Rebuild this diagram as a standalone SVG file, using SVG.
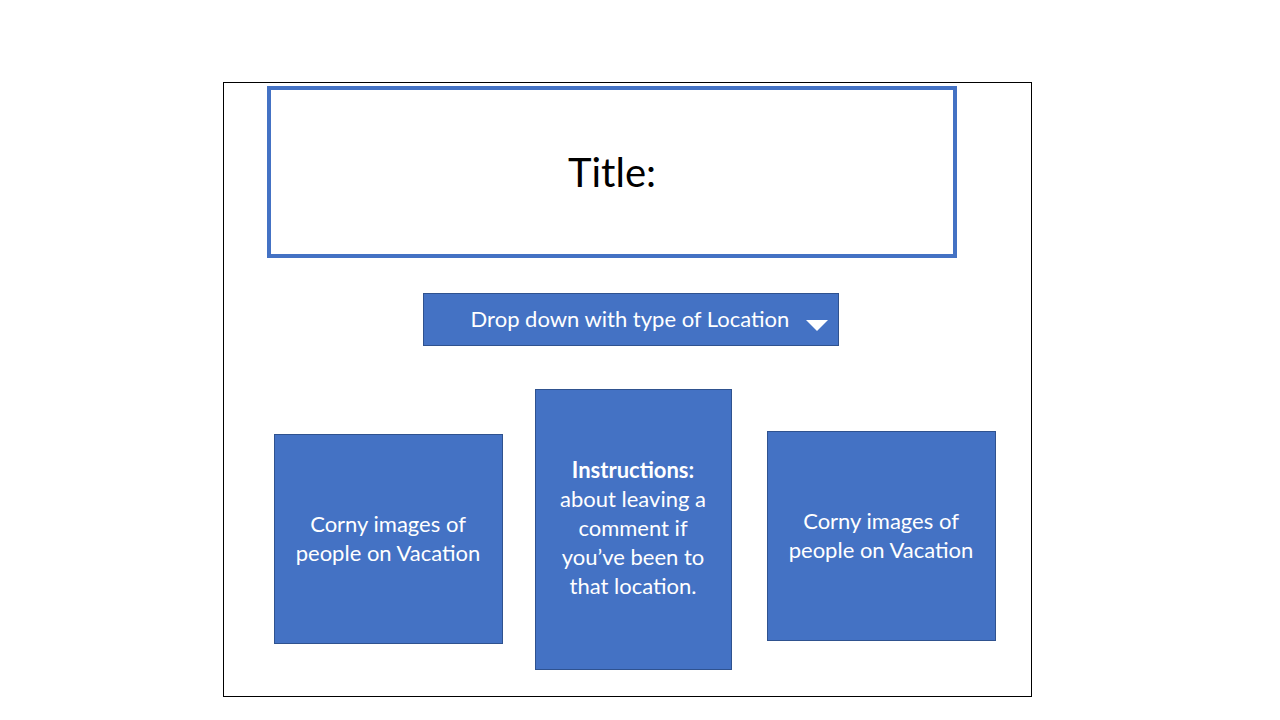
<svg xmlns="http://www.w3.org/2000/svg" width="1280" height="720" viewBox="0 0 1280 720">
<style>
.box{fill:#4472C4;stroke:#2F528F;stroke-width:1}
.t{font-family:Lato,"Open Sans","Liberation Sans",sans-serif;font-size:22px;fill:#ffffff;text-anchor:middle}
</style>
<rect width="1280" height="720" fill="#ffffff"/>
<g id="frame"><rect x="223.5" y="82.5" width="808" height="614" fill="#ffffff" stroke="#000000" stroke-width="1"/></g>
<g id="title"><rect x="269" y="88" width="686" height="168" fill="#ffffff" stroke="#4472C4" stroke-width="4"/>
<text x="612" y="187" font-family="Lato,'Open Sans','Liberation Sans',sans-serif" font-size="40" text-anchor="middle" fill="#000000">Title:</text></g>
<g id="dropdown"><rect class="box" x="423.5" y="293.5" width="415" height="52"/>
<text class="t" x="630" y="327">Drop down with type of Location</text>
<polygon points="806,320 828,320 817,331" fill="#ffffff"/></g>
<g id="left"><rect class="box" x="274.5" y="434.5" width="228" height="209"/>
<text class="t" x="388" y="532">Corny images of</text>
<text class="t" x="388" y="561">people on Vacation</text></g>
<g id="middle"><rect class="box" x="535.5" y="389.5" width="196" height="280"/>
<text class="t" x="633" y="478" font-weight="bold">Instructions:</text>
<text class="t" x="633" y="507">about leaving a</text>
<text class="t" x="633" y="536">comment if</text>
<text class="t" x="633" y="565">you’ve been to</text>
<text class="t" x="633" y="594">that location.</text></g>
<g id="right"><rect class="box" x="767.5" y="431.5" width="228" height="209"/>
<text class="t" x="881" y="529">Corny images of</text>
<text class="t" x="881" y="558">people on Vacation</text></g>
<g id="connectors"/>
</svg>
